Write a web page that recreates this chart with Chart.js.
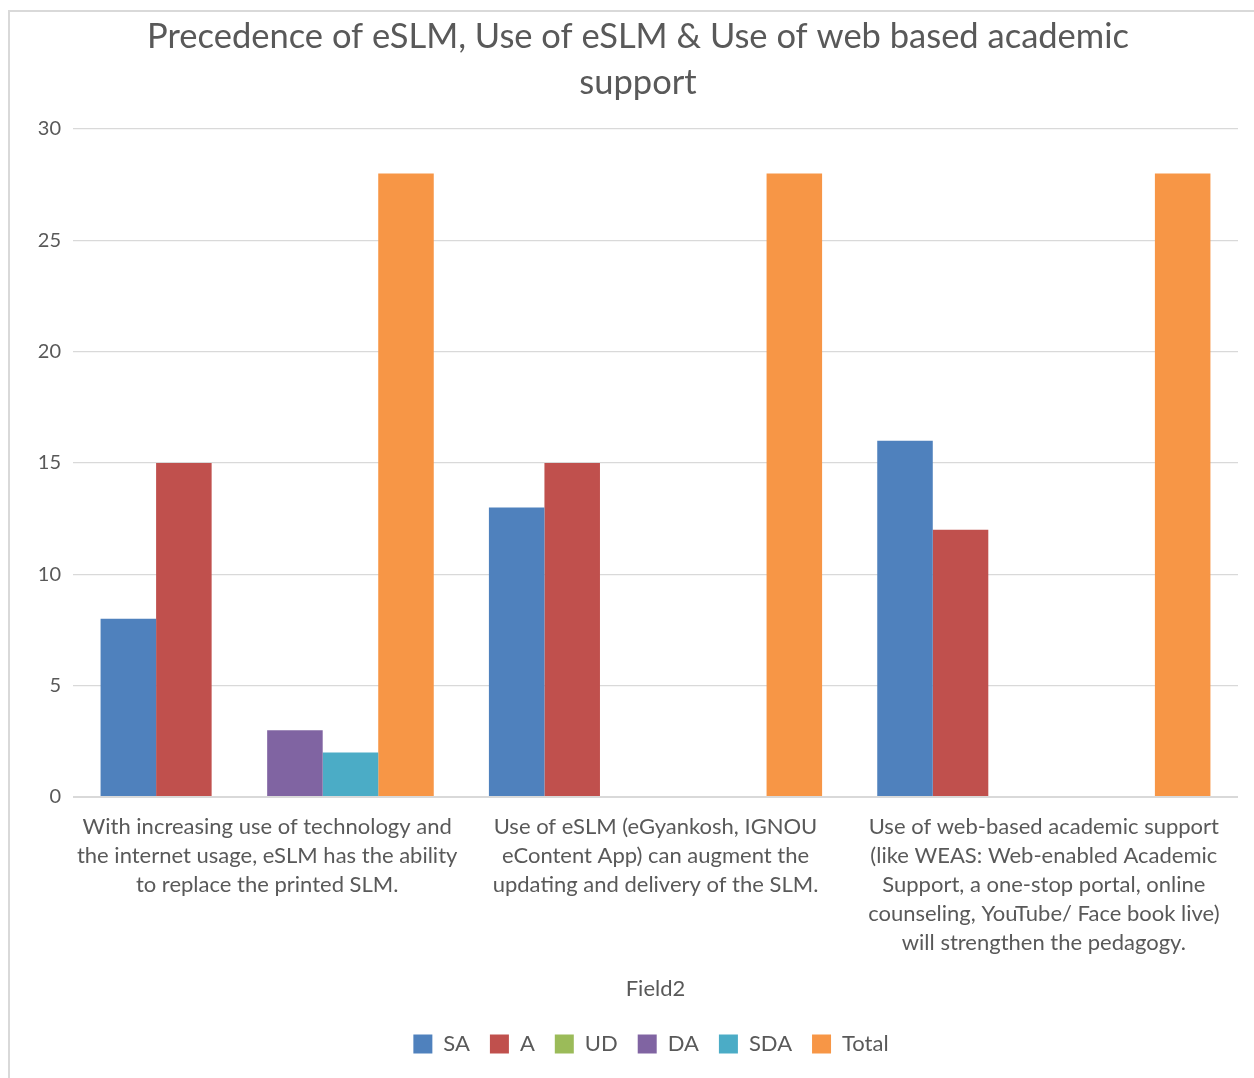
<!DOCTYPE html>
<html>
<head>
<meta charset="utf-8">
<script src="https://cdn.jsdelivr.net/npm/chart.js@4"></script>
<style>
  html, body { margin: 0; padding: 0; background: #fff; overflow: hidden; }
  .chart-box {
    position: absolute; left: 8px; top: 10px;
    width: 1256px; height: 1080px;
    border: 2px solid #d9d9d9;
  }
</style>
</head>
<body>
<div class="chart-box"><canvas id="chart" width="1256" height="1080"></canvas></div>
<script>
const titleLines = ['Precedence of eSLM, Use of eSLM & Use of web based academic', 'support'];
const categories = [
  ['With increasing use of technology and', 'the internet usage, eSLM has the ability', 'to replace the printed SLM.'],
  ['Use of eSLM (eGyankosh, IGNOU', 'eContent App) can augment the', 'updating and delivery of the SLM.'],
  ['Use of web-based academic support', '(like WEAS: Web-enabled Academic', 'Support, a one-stop portal, online', 'counseling, YouTube/ Face book live)', 'will strengthen the pedagogy.']
];
const seriesNames = ['SA', 'A', 'UD', 'DA', 'SDA', 'Total'];
const saValues = [8, 13, 16];
const aValues = [15, 15, 12];
const udValues = [0, 0, 0];
const daValues = [3, 0, 0];
const sdaValues = [2, 0, 0];
const totalValues = [28, 28, 28];
const yTicks = [0, 5, 10, 15, 20, 25, 30];

const colors = ['#4F81BD', '#C0504D', '#9BBB59', '#8064A2', '#4BACC6', '#F79646'];
const textColor = '#595959';
const font = 'Lato';

const allValues = [saValues, aValues, udValues, daValues, sdaValues, totalValues];

const datasets = seriesNames.map((name, i) => ({
  label: name,
  data: allValues[i],
  backgroundColor: colors[i],
  borderWidth: 0,
  categoryPercentage: 0.858,
  barPercentage: 1
}));

// legend sits a little right of centre in the original
const legendShift = {
  id: 'legendShift',
  afterLayout: chart => {
    chart.legend.left += 13;
    chart.legend.right += 13;
  }
};

new Chart(document.getElementById('chart'), {
  type: 'bar',
  data: { labels: categories, datasets },
  plugins: [legendShift],
  options: {
    responsive: false,
    animation: false,
    layout: { padding: { top: 0, right: 0, bottom: 27, left: 0 } },
    plugins: {
      title: {
        display: true,
        text: titleLines,
        color: textColor,
        font: { family: font, size: 34.5, weight: 'normal', lineHeight: 1.333 },
        padding: { top: 2, bottom: 23 }
      },
      legend: {
        position: 'bottom',
        labels: {
          color: textColor,
          font: { family: font, size: 22 },
          boxWidth: 19,
          boxHeight: 19,
          padding: 20
        }
      },
      tooltip: { enabled: false }
    },
    scales: {
      x: {
        grid: { display: false },
        border: { display: false },
        ticks: {
          color: textColor,
          font: { family: font, size: 22, lineHeight: 1.32 },
          maxRotation: 0,
          autoSkip: false,
          padding: 7
        },
        title: {
          display: true,
          text: 'Field2',
          color: textColor,
          font: { family: font, size: 22 },
          padding: { top: 0, bottom: 11 }
        },
        afterFit: scale => { scale.height = 216; }
      },
      y: {
        min: 0,
        max: 30,
        afterBuildTicks: scale => { scale.ticks = yTicks.map(v => ({ value: v })); },
        grid: {
          color: '#d9d9d9',
          lineWidth: ctx => ctx.tick && ctx.tick.value === 0 ? 2 : 1.3,
          drawTicks: false
        },
        border: { display: false },
        ticks: {
          color: textColor,
          font: { family: font, size: 20 },
          padding: 12
        },
        afterFit: scale => { scale.width = 63; }
      },
      // empty axis on the right, only keeps the right margin
      yRight: {
        position: 'right',
        grid: { display: false },
        border: { display: false },
        ticks: { display: false },
        afterFit: scale => { scale.width = 28; }
      }
    }
  }
});
</script>
</body>
</html>
